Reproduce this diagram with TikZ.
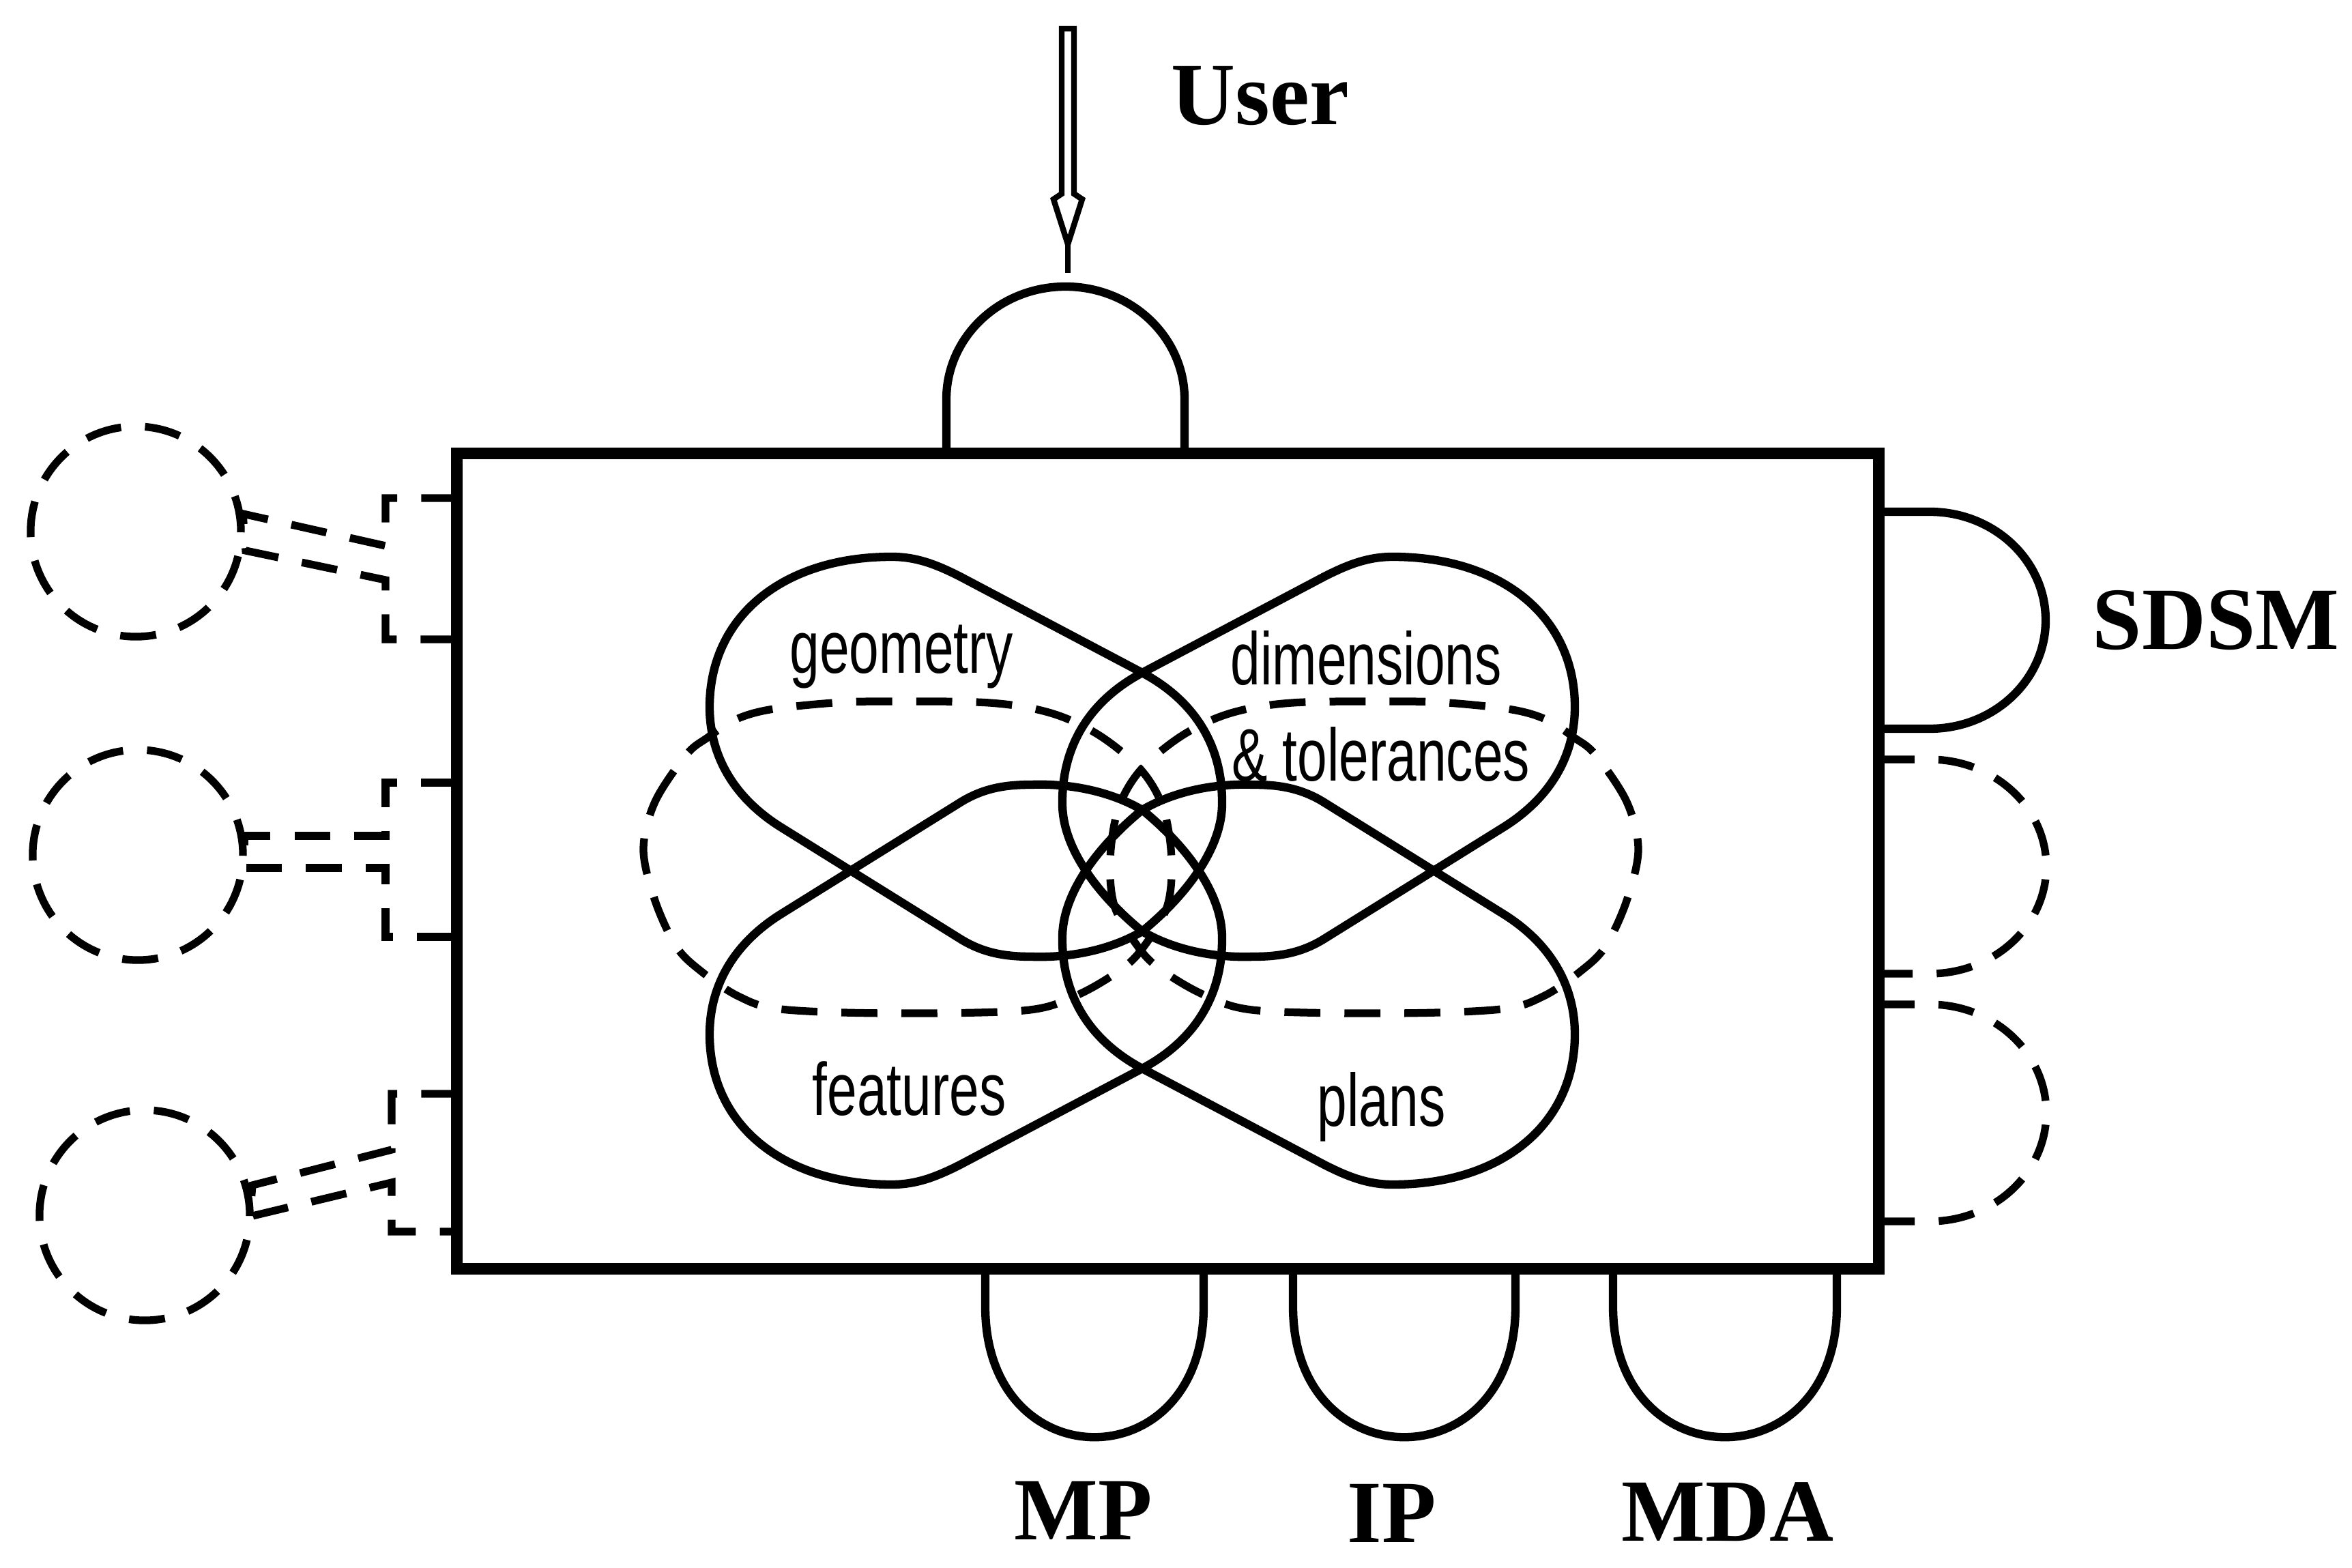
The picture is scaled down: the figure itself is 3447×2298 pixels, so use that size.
\documentclass[tikz,border=0pt]{standalone}
\usepackage{fontspec}
\setmainfont{Liberation Serif}
\newfontfamily\narrowsans[FakeStretch=0.72]{Liberation Sans}
\begin{document}
\begin{tikzpicture}[x=0.01cm, y=-0.01cm,
  solidline/.style={line width=3.5pt, line join=round},
  dashline/.style={line width=3.2pt, dash pattern=on 15pt off 10pt},
  framebox/.style={draw, line width=4.8pt, inner sep=0pt, minimum width=20.83cm, minimum height=11.94cm},
  extmod/.style={circle, draw, dashline, minimum size=3.08cm, inner sep=0pt},
  arrowline/.style={line width=2.4pt, line join=miter},
  portlabel/.style={font=\fontsize{37}{40}\selectfont\bfseries, inner sep=0pt, anchor=base west},
  setlabel/.style={font=\narrowsans\fontsize{31}{34}\selectfont, inner sep=0pt, anchor=base west}]

\useasboundingbox (0,0) rectangle (3447,2298);

% external modules on the left, joined by dashed pipes
\node[extmod] (ext1) at (199,779) {};
\node[extmod] (ext2) at (202,1253) {};
\node[extmod] (ext3) at (212,1781) {};

\draw[dashline] (670,730) -- (565,730) -- (565,800) -- (356,753) -- (360,807) -- (565,850) -- (565,937) -- (670,937);
\draw[dashline] (670,1147) -- (565,1147) -- (565,1225) -- (358,1225) -- (358,1272) -- (565,1272) -- (565,1373) -- (670,1373);
\draw[dashline] (670,1603) -- (574,1603) -- (574,1685) -- (370,1737) -- (366,1783) -- (574,1733) -- (574,1805) -- (670,1805);

% the knowledge base
\node[framebox] (core) at (1711.5,1262) {};

% user port on top
\draw[solidline] (1387,665) -- (1387,585) arc[start angle=180, end angle=360, x radius=174.5, y radius=165] -- (1736,665);

% ports on the right
\draw[solidline] (2753,750) -- (2828,750) arc[start angle=-90, end angle=90, x radius=170, y radius=159] -- (2753,1068);
\draw[dashline] (2753,1113) -- (2828,1113) arc[start angle=-90, end angle=90, x radius=171, y radius=157] -- (2753,1427);
\draw[dashline] (2753,1472) -- (2828,1472) arc[start angle=-90, end angle=90, x radius=171, y radius=159] -- (2753,1790);

% ports at the bottom
\foreach \l/\r in {1444/1764, 1895/2221, 2364/2692} {
  \draw[solidline] (\l,1859) -- (\l,1915) .. controls (\l,2170) and (\r,2170) .. (\r,1915) -- (\r,1859);
}

% user input arrow
\coordinate (userTail) at (1565,42);
\coordinate (userTip) at (1565,400);
\draw[arrowline] (1556,42) -- (1574,42) -- (1574,284) -- (1586,292) -- (1565,358) -- (1544,292) -- (1556,284) -- cycle;
\draw[arrowline] (1565,358) -- (userTip);

% dashed pair of lobes across the middle
\foreach \sx in {1,-1} {
  \begin{scope}[shift={(1672,0)}, xscale=\sx]
    \draw[dashline] plot[smooth cycle, tension=0.55] coordinates {
      (-729,1245) (-712,1175) (-666,1106) (-635,1081) (-595,1055) (-544,1040)
      (-450,1030) (-372,1028) (-222,1030) (-132,1045) (-62,1077) (0,1128)
      (33,1185) (45,1260) (38,1330) (0,1393) (-35,1425) (-97,1460)
      (-172,1481) (-372,1485) (-528,1479) (-590,1460) (-645,1423) (-681,1387) (-712,1320)};
  \end{scope}
}

% four solid lobes meeting in the centre
\foreach \sx/\sy in {1/1, -1/1, 1/-1, -1/-1} {
  \begin{scope}[shift={(1674,1276)}, xscale=\sx, yscale=\sy]
    \draw[solidline] (0,89) .. controls (-50,118) and (-110,128) .. (-163,126)
      .. controls (-200,126) and (-232,121) .. (-265,101)
      -- (-530,-64)
      .. controls (-600,-108) and (-634,-170) .. (-634,-240)
      .. controls (-634,-372) and (-527,-460) .. (-367,-460)
      .. controls (-330,-460) and (-300,-448) .. (-265,-430)
      -- (0,-290)
      .. controls (75,-250) and (118,-185) .. (117,-98)
      .. controls (117,-30) and (60,40) .. cycle;
  \end{scope}
}

% labels
\node[portlabel] (user) at (1716,183) {User};
\node[portlabel] (sdsm) at (3066,952) {SDSM};
\node[portlabel] (mp) at (1486,2256) {MP};
\node[portlabel] (ip) at (1974,2260) {IP};
\node[portlabel] (mda) at (2376,2258) {MDA};

\node[setlabel] (geo) at (1157,987) {geometry};
\node[setlabel] (dim) at (1803,1004) {dimensions};
\node[setlabel] (tol) at (1805,1145) {\& tolerances};
\node[setlabel] (feat) at (1190,1634) {features};
\node[setlabel] (plan) at (1930,1650) {plans};
\end{tikzpicture}
\end{document}
